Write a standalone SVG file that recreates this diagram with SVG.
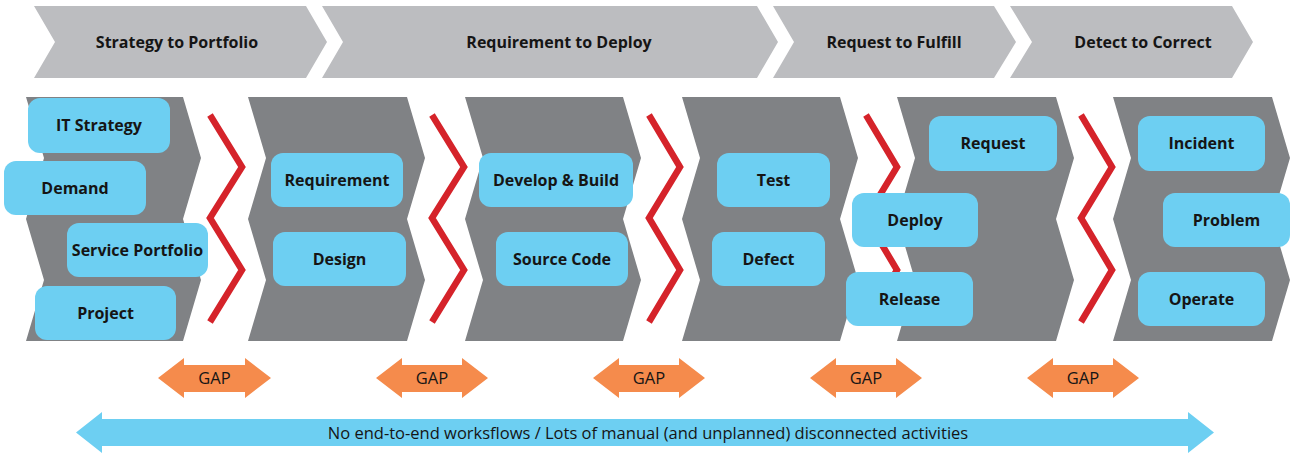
<svg xmlns="http://www.w3.org/2000/svg" width="1290" height="454" viewBox="0 0 1290 454">
<style>
.phase{fill:#BCBDC0}
.blk{fill:#808285}
.box{fill:#6DCFF2}
.zz{fill:none;stroke:#D5232A;stroke-width:6.5;stroke-linejoin:miter;stroke-miterlimit:10}
.gap{fill:#F58B4C}
.big{fill:#6DCFF2}
text{font-family:"Open Sans","Liberation Sans",Arial,sans-serif;fill:#151515;text-anchor:middle}
.ph{font-size:16px;font-weight:700}
.lb{font-size:16px;font-weight:700}
.gt{font-size:16.5px}
</style>
<rect width="1290" height="454" fill="#FFFFFF"/>
<g id="phase-s2p"><path class="phase" d="M34,6 H306 L327,42 L306,78 H34 L55,42 Z"/><text class="ph" x="177" y="47.5">Strategy to Portfolio</text></g>
<g id="phase-r2d"><path class="phase" d="M322,6 H757 L778,42 L757,78 H322 L343,42 Z"/><text class="ph" x="559" y="47.5">Requirement to Deploy</text></g>
<g id="phase-r2f"><path class="phase" d="M773,6 H994 L1016,42 L994,78 H773 L794,42 Z"/><text class="ph" x="894" y="47.5">Request to Fulfill</text></g>
<g id="phase-d2c"><path class="phase" d="M1010,6 H1232 L1253,42 L1232,78 H1010 L1032,42 Z"/><text class="ph" x="1143" y="47.5">Detect to Correct</text></g>

<g id="block-1"><path class="blk" d="M26,97 H183 L201,158 L183,219 L201,280 L183,341 H26 L44,280 L26,219 L44,158 Z"/></g>
<g id="block-2"><path class="blk" d="M248,97 H407 L425,158 L407,219 L425,280 L407,341 H248 L266,280 L248,219 L266,158 Z"/></g>
<g id="block-3"><path class="blk" d="M465,97 H623 L641,158 L623,219 L641,280 L623,341 H465 L483,280 L465,219 L483,158 Z"/></g>
<g id="block-4"><path class="blk" d="M682,97 H840 L858,158 L840,219 L858,280 L840,341 H682 L700,280 L682,219 L700,158 Z"/></g>
<g id="block-5"><path class="blk" d="M897,97 H1056 L1074,158 L1056,219 L1074,280 L1056,341 H897 L915,280 L897,219 L915,158 Z"/></g>
<g id="block-6"><path class="blk" d="M1113,97 H1272 L1290,158 L1272,219 L1290,280 L1272,341 H1113 L1131,280 L1113,219 L1131,158 Z"/></g>

<g id="connectors">
<path class="zz" d="M210,115 L242,167 L210,218 L242,270 L210,322"/>
<path class="zz" d="M432,115 L464,167 L432,218 L464,270 L432,322"/>
<path class="zz" d="M649,115 L680,167 L649,218 L680,270 L649,322"/>
<path class="zz" d="M866,115 L897,167 L866,218 L897,270 L866,322"/>
<path class="zz" d="M1081,115 L1112,167 L1081,218 L1112,270 L1081,322"/>
</g>

<g id="n-it-strategy"><rect class="box" x="28" y="98" width="142" height="55" rx="12"/><text class="lb" x="99" y="131">IT Strategy</text></g>
<g id="n-demand"><rect class="box" x="4" y="161" width="142" height="54" rx="12"/><text class="lb" x="75" y="193.5">Demand</text></g>
<g id="n-service-portfolio"><rect class="box" x="67" y="223" width="141" height="54" rx="12"/><text class="lb" x="137.5" y="255.5">Service Portfolio</text></g>
<g id="n-project"><rect class="box" x="35" y="286" width="141" height="54" rx="12"/><text class="lb" x="105.5" y="318.5">Project</text></g>
<g id="n-requirement"><rect class="box" x="271" y="153" width="132" height="54" rx="12"/><text class="lb" x="337" y="185.5">Requirement</text></g>
<g id="n-design"><rect class="box" x="273" y="232" width="133" height="54" rx="12"/><text class="lb" x="339.5" y="264.5">Design</text></g>
<g id="n-develop-build"><rect class="box" x="479" y="153" width="154" height="54" rx="12"/><text class="lb" x="556" y="185.5">Develop &amp; Build</text></g>
<g id="n-source-code"><rect class="box" x="496" y="232" width="132" height="54" rx="12"/><text class="lb" x="562" y="264.5">Source Code</text></g>
<g id="n-test"><rect class="box" x="717" y="153" width="113" height="54" rx="12"/><text class="lb" x="773.5" y="185.5">Test</text></g>
<g id="n-defect"><rect class="box" x="712" y="232" width="113" height="54" rx="12"/><text class="lb" x="768.5" y="264.5">Defect</text></g>
<g id="n-request"><rect class="box" x="929" y="116" width="128" height="55" rx="12"/><text class="lb" x="993" y="148.5">Request</text></g>
<g id="n-deploy"><rect class="box" x="852" y="193" width="126" height="54" rx="12"/><text class="lb" x="915" y="225.5">Deploy</text></g>
<g id="n-release"><rect class="box" x="846" y="272" width="127" height="54" rx="12"/><text class="lb" x="909.5" y="304.5">Release</text></g>
<g id="n-incident"><rect class="box" x="1138" y="116" width="127" height="55" rx="12"/><text class="lb" x="1201.5" y="148.5">Incident</text></g>
<g id="n-problem"><rect class="box" x="1163" y="193" width="127" height="54" rx="12"/><text class="lb" x="1226.5" y="225.5">Problem</text></g>
<g id="n-operate"><rect class="box" x="1138" y="272" width="127" height="54" rx="12"/><text class="lb" x="1201.5" y="304.5">Operate</text></g>

<g id="gaps">
<g id="gap-1"><path class="gap" d="M158,378 L184,358 V365 H245 V358 L271,378 L245,398 V392 H184 V398 Z"/><text class="gt" x="214.5" y="384">GAP</text></g>
<g id="gap-2"><path class="gap" d="M376,378 L402,358 V365 H462 V358 L488,378 L462,398 V392 H402 V398 Z"/><text class="gt" x="432" y="384">GAP</text></g>
<g id="gap-3"><path class="gap" d="M593,378 L619,358 V365 H679 V358 L705,378 L679,398 V392 H619 V398 Z"/><text class="gt" x="649" y="384">GAP</text></g>
<g id="gap-4"><path class="gap" d="M810,378 L836,358 V365 H896 V358 L922,378 L896,398 V392 H836 V398 Z"/><text class="gt" x="866" y="384">GAP</text></g>
<g id="gap-5"><path class="gap" d="M1027,378 L1053,358 V365 H1113 V358 L1139,378 L1113,398 V392 H1053 V398 Z"/><text class="gt" x="1083" y="384">GAP</text></g>
</g>

<g id="workflow-arrow"><path class="big" d="M76,432.5 L102,412 V419 H1188 V412 L1214,432.5 L1188,453 V446 H102 V453 Z"/><text class="gt" x="648" y="438.5">No end-to-end worksflows / Lots of manual (and unplanned) disconnected activities</text></g>
</svg>
